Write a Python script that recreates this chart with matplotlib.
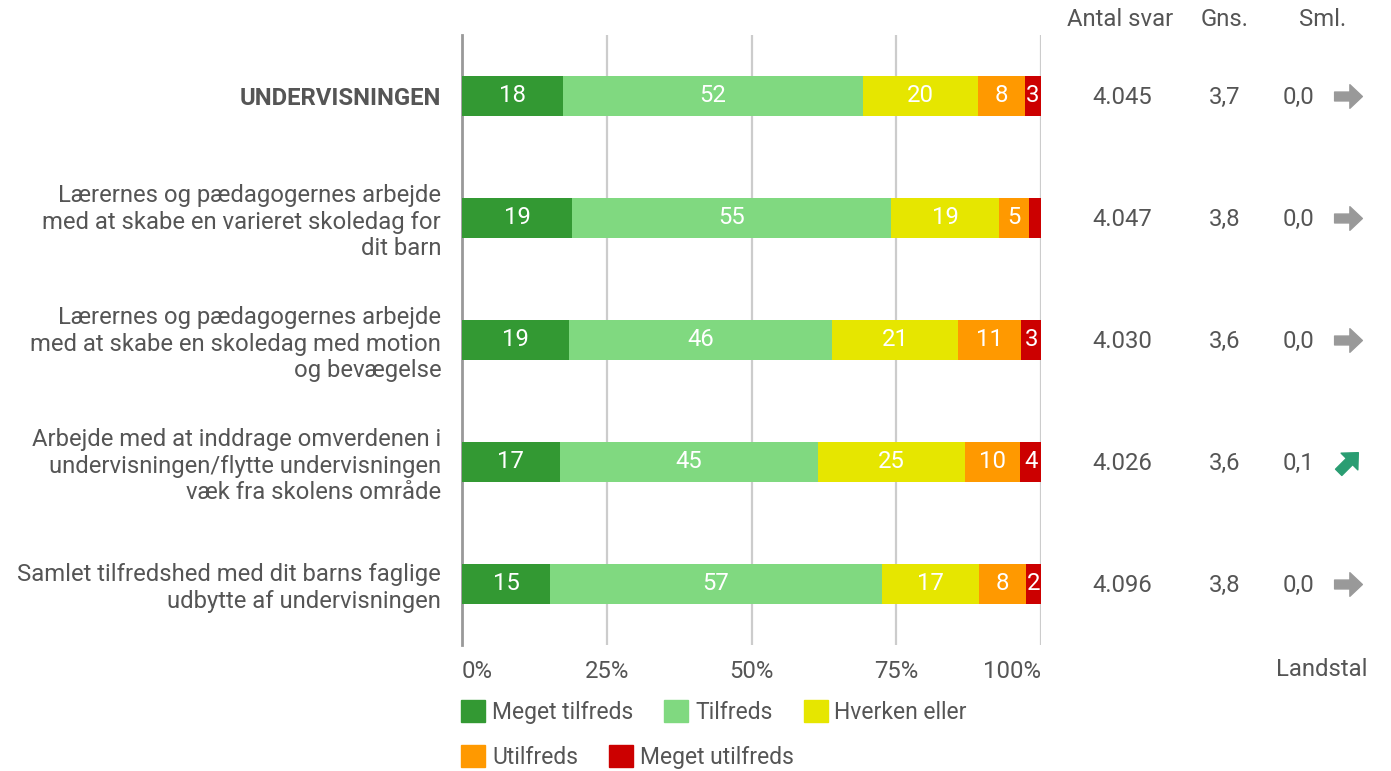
import matplotlib
matplotlib.use("Agg")
import matplotlib.pyplot as plt
import numpy as np
from matplotlib.patches import Patch
from matplotlib.path import Path
from matplotlib.markers import MarkerStyle
from matplotlib.transforms import Affine2D, blended_transform_factory

plt.rcParams['font.family'] = ['Roboto', 'DejaVu Sans']

categories = [
    "UNDERVISNINGEN",
    "Lærernes og pædagogernes arbejde\nmed at skabe en varieret skoledag for\ndit barn",
    "Lærernes og pædagogernes arbejde\nmed at skabe en skoledag med motion\nog bevægelse",
    "Arbejde med at inddrage omverdenen i\nundervisningen/flytte undervisningen\nvæk fra skolens område",
    "Samlet tilfredshed med dit barns faglige\nudbytte af undervisningen",
]
series_names = ["Meget tilfreds", "Tilfreds", "Hverken eller", "Utilfreds", "Meget utilfreds"]
meget_tilfreds = [17.4, 19.0, 18.5, 16.9, 15.2]
tilfreds = [51.8, 55.1, 45.4, 44.6, 57.3]
hverken = [19.9, 18.7, 21.8, 25.4, 16.8]
utilfreds = [8.1, 5.2, 10.9, 9.5, 8.1]
meget_utilfreds = [2.8, 2.0, 3.5, 3.6, 2.6]
labels_mt = ["18", "19", "19", "17", "15"]
labels_t = ["52", "55", "46", "45", "57"]
labels_h = ["20", "19", "21", "25", "17"]
labels_u = ["8", "5", "11", "10", "8"]
labels_mu = ["3", "", "3", "4", "2"]
antal_svar = ["4.045", "4.047", "4.030", "4.026", "4.096"]
gns = ["3,7", "3,8", "3,6", "3,6", "3,8"]
sml = ["0,0", "0,0", "0,0", "0,1", "0,0"]
sml_direction = [0, 0, 0, 45, 0]  # arrow angle in degrees
xticks = [0, 25, 50, 75, 100]
xtick_labels = ["0%", "25%", "50%", "75%", "100%"]

colors = ["#339933", "#80d980", "#e6e600", "#ff9900", "#cc0000"]
text_col = "#555555"
fs = 17.2

W, H = 1391, 771
fig = plt.figure(figsize=(W / 100, H / 100), dpi=100)
ax = fig.add_axes([462 / W, 1 - 645 / H, (1041 - 462) / W, (645 - 35) / H])

series = [meget_tilfreds, tilfreds, hverken, utilfreds, meget_utilfreds]
seg_labels = [labels_mt, labels_t, labels_h, labels_u, labels_mu]
y = np.arange(len(categories))
left = np.zeros(len(categories))
for vals, lab, col in zip(series, seg_labels, colors):
    vals = np.array(vals)
    bars = ax.barh(y, vals, left=left, height=40 / 121.75, color=col, zorder=3)
    ax.bar_label(bars, labels=lab, label_type='center', color='white', fontsize=fs)
    left += vals

ax.set_xlim(0, 100)
ax.set_ylim(len(categories) - 0.5, -0.5)
ax.set_xticks(xticks)
ax.set_xticklabels(xtick_labels, fontsize=fs, color=text_col)
xl = ax.get_xticklabels()
xl[0].set_ha('left')
xl[-1].set_ha('right')
ax.set_yticks(y)
ax.set_yticklabels(categories, fontsize=fs, color=text_col, linespacing=1.17)
ax.get_yticklabels()[0].set_fontweight('bold')
ax.tick_params(axis='y', length=0, pad=15)
ax.tick_params(axis='x', length=0, pad=11)
for s in ['top', 'right', 'bottom']:
    ax.spines[s].set_visible(False)
ax.spines['left'].set_color('#999999')
ax.spines['left'].set_linewidth(2)
ax.grid(axis='x', color='#cccccc', linewidth=1.6, zorder=0)
ax.set_axisbelow(True)

# right-hand columns
tr = blended_transform_factory(fig.transFigure, ax.transData)
fig.text(1120 / W, 1 - 20 / H, "Antal svar", ha='center', va='center', fontsize=fs, color=text_col)
fig.text(1225 / W, 1 - 20 / H, "Gns.", ha='center', va='center', fontsize=fs, color=text_col)
fig.text(1323 / W, 1 - 20 / H, "Sml.", ha='center', va='center', fontsize=fs, color=text_col)
fig.text(1322 / W, 1 - 670 / H, "Landstal", ha='center', va='center', fontsize=fs, color=text_col)

arrow_verts = [(-1, -0.32), (0.1, -0.32), (0.1, -0.85), (1, 0), (0.1, 0.85), (0.1, 0.32), (-1, 0.32), (-1, -0.32)]
arrow_codes = [Path.MOVETO] + [Path.LINETO] * 6 + [Path.CLOSEPOLY]
arrow_path = Path(arrow_verts, arrow_codes)

for i in range(len(categories)):
    ax.text(1122 / W, y[i] + 0.015, antal_svar[i], transform=tr, ha='center', va='center', fontsize=fs, color=text_col)
    ax.text(1225 / W, y[i] + 0.015, gns[i], transform=tr, ha='center', va='center', fontsize=fs, color=text_col)
    ax.text(1298 / W, y[i] + 0.015, sml[i], transform=tr, ha='center', va='center', fontsize=fs, color=text_col)
    ang = sml_direction[i]
    m = MarkerStyle(arrow_path, transform=Affine2D().rotate_deg(ang))
    col = "#999999" if ang == 0 else "#2a9d72"
    ax.plot([1348 / W], [y[i]], marker=m, markersize=20, color=col, transform=tr, clip_on=False, linestyle='none')

# legend
handles = [Patch(facecolor=c, edgecolor=c) for c in colors]
kw = dict(frameon=False, fontsize=16.5, handlelength=1.05, handleheight=1.05,
          handletextpad=0.3, columnspacing=1.35, borderaxespad=0)
leg1 = fig.legend(handles[:3], series_names[:3], loc='center left', bbox_to_anchor=(452 / W, 1 - 712 / H),
                  ncol=3, **kw)
leg2 = fig.legend(handles[3:], series_names[3:], loc='center left', bbox_to_anchor=(452 / W, 1 - 757 / H),
                  ncol=2, **kw)
for leg in (leg1, leg2):
    for t in leg.get_texts():
        t.set_color(text_col)

fig.savefig("out.png", dpi=100, facecolor='white')
